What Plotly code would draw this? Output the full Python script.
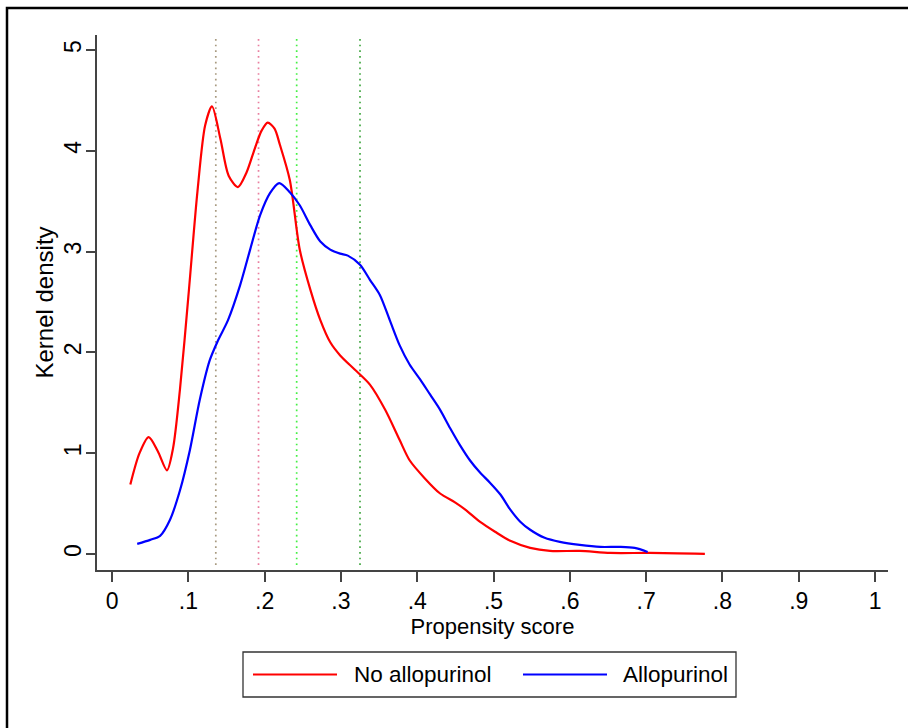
import plotly.graph_objects as go

# Kernel density of the propensity score, by treatment group
no_allo_x = [0.024, 0.036, 0.048, 0.060, 0.072, 0.080, 0.089, 0.100, 0.112, 0.122, 0.131,
             0.142, 0.153, 0.165, 0.176, 0.187, 0.196, 0.204, 0.213, 0.220, 0.233, 0.246,
             0.260, 0.273, 0.286, 0.299, 0.318, 0.338, 0.358, 0.377, 0.390, 0.410, 0.430,
             0.450, 0.463, 0.482, 0.502, 0.522, 0.548, 0.574, 0.613, 0.653, 0.705, 0.777]
no_allo_y = [0.69, 1.00, 1.16, 1.02, 0.83, 1.05, 1.63, 2.55, 3.60, 4.25, 4.44,
             4.12, 3.75, 3.64, 3.78, 4.02, 4.20, 4.28, 4.22, 4.06, 3.71, 3.02,
             2.62, 2.32, 2.10, 1.97, 1.83, 1.68, 1.43, 1.13, 0.93, 0.75, 0.60,
             0.51, 0.44, 0.32, 0.22, 0.13, 0.06, 0.03, 0.03, 0.01, 0.01, 0.00]

allo_x = [0.033, 0.050, 0.063, 0.076, 0.089, 0.102, 0.115, 0.128, 0.139, 0.152, 0.168,
          0.181, 0.194, 0.207, 0.219, 0.233, 0.246, 0.260, 0.273, 0.286, 0.299, 0.309,
          0.325, 0.338, 0.351, 0.364, 0.377, 0.390, 0.404, 0.417, 0.430, 0.443, 0.456,
          0.469, 0.482, 0.495, 0.509, 0.522, 0.535, 0.548, 0.567, 0.587, 0.613, 0.640,
          0.665, 0.685, 0.702]
allo_y = [0.10, 0.14, 0.18, 0.34, 0.63, 1.03, 1.53, 1.92, 2.12, 2.32, 2.67,
          3.02, 3.36, 3.58, 3.68, 3.59, 3.46, 3.26, 3.10, 3.02, 2.98, 2.96,
          2.87, 2.72, 2.57, 2.32, 2.07, 1.88, 1.73, 1.58, 1.43, 1.25, 1.08,
          0.93, 0.81, 0.71, 0.59, 0.44, 0.32, 0.24, 0.16, 0.12, 0.09, 0.07,
          0.07, 0.06, 0.02]

# Reference lines (group quantiles of the score)
ref_x = [0.136, 0.192, 0.242, 0.325]
ref_colors = ["#a89a80", "#e97fa0", "#44f044", "#44a844"]

x_ticks = [0, 0.1, 0.2, 0.3, 0.4, 0.5, 0.6, 0.7, 0.8, 0.9, 1.0]
x_ticktext = ["0", ".1", ".2", ".3", ".4", ".5", ".6", ".7", ".8", ".9", "1"]
y_ticks = [0, 1, 2, 3, 4, 5]

W, H = 908, 728
L, R, T, B = 97, 20, 35, 158
PW, PH = W - L - R, H - T - B


def px_x(p):
    return (p - L) / PW


def px_y(p):
    return (H - B - p) / PH


FONT = "Liberation Sans, Arial, sans-serif"

fig = go.Figure()
fig.add_trace(go.Scatter(x=no_allo_x, y=no_allo_y, mode="lines", name="No allopurinol",
                         line=dict(color="#ff0000", width=2.2, shape="spline", smoothing=0.8)))
fig.add_trace(go.Scatter(x=allo_x, y=allo_y, mode="lines", name="Allopurinol",
                         line=dict(color="#0000ff", width=2.2, shape="spline", smoothing=0.8)))

shapes = []
for xv, col in zip(ref_x, ref_colors):
    shapes.append(dict(type="line", xref="x", yref="y", x0=xv, x1=xv, y0=-0.11, y1=5.15,
                       line=dict(color=col, width=1.7, dash="1.7px,4px"), layer="below"))

# outer frame
shapes.append(dict(type="rect", xref="paper", yref="paper",
                   x0=px_x(7), x1=px_x(930), y0=px_y(750), y1=px_y(8),
                   line=dict(color="#000000", width=2.5)))

# legend box
lg_x0, lg_x1, lg_y0, lg_y1 = 243, 736, 652, 697
shapes.append(dict(type="rect", xref="paper", yref="paper",
                   x0=px_x(lg_x0), x1=px_x(lg_x1), y0=px_y(lg_y1), y1=px_y(lg_y0),
                   line=dict(color="#333333", width=1.3), fillcolor="white"))
lg_yc = (lg_y0 + lg_y1) / 2
legend_items = [("No allopurinol", "#ff0000", 253, 337, 352),
                ("Allopurinol", "#0000ff", 523, 607, 621)]
annotations = []
for name, col, lx0, lx1, tx in legend_items:
    shapes.append(dict(type="line", xref="paper", yref="paper",
                       x0=px_x(lx0), x1=px_x(lx1), y0=px_y(lg_yc), y1=px_y(lg_yc),
                       line=dict(color=col, width=2.2)))
    annotations.append(dict(xref="paper", yref="paper", x=px_x(tx), y=px_y(lg_yc),
                            text=name, showarrow=False, xanchor="left", yanchor="middle",
                            font=dict(family=FONT, size=22.5, color="#000000")))

axis_common = dict(showgrid=False, zeroline=False, showline=True, linecolor="#444444",
                   linewidth=1.5, ticks="outside", tickcolor="#444444", tickwidth=1.5,
                   tickfont=dict(family=FONT, size=23, color="#000000"))

fig.update_layout(
    width=W, height=H,
    margin=dict(l=L, r=R, t=T, b=B),
    paper_bgcolor="white", plot_bgcolor="white",
    showlegend=False,
    shapes=shapes,
    annotations=annotations,
    xaxis=dict(range=[-0.0197, 1.017], tickvals=x_ticks, ticktext=x_ticktext,
               ticklen=10, ticklabelstandoff=0,
               title=dict(text="Propensity score", standoff=4,
                          font=dict(family=FONT, size=22, color="#000000")),
               **axis_common),
    yaxis=dict(range=[-0.159, 5.149], tickvals=y_ticks, tickangle=-90,
               ticklen=9, ticklabelstandoff=-4,
               title=dict(text="Kernel density", standoff=0,
                          font=dict(family=FONT, size=24, color="#000000")),
               **axis_common),
)

fig.write_html("out.html")
